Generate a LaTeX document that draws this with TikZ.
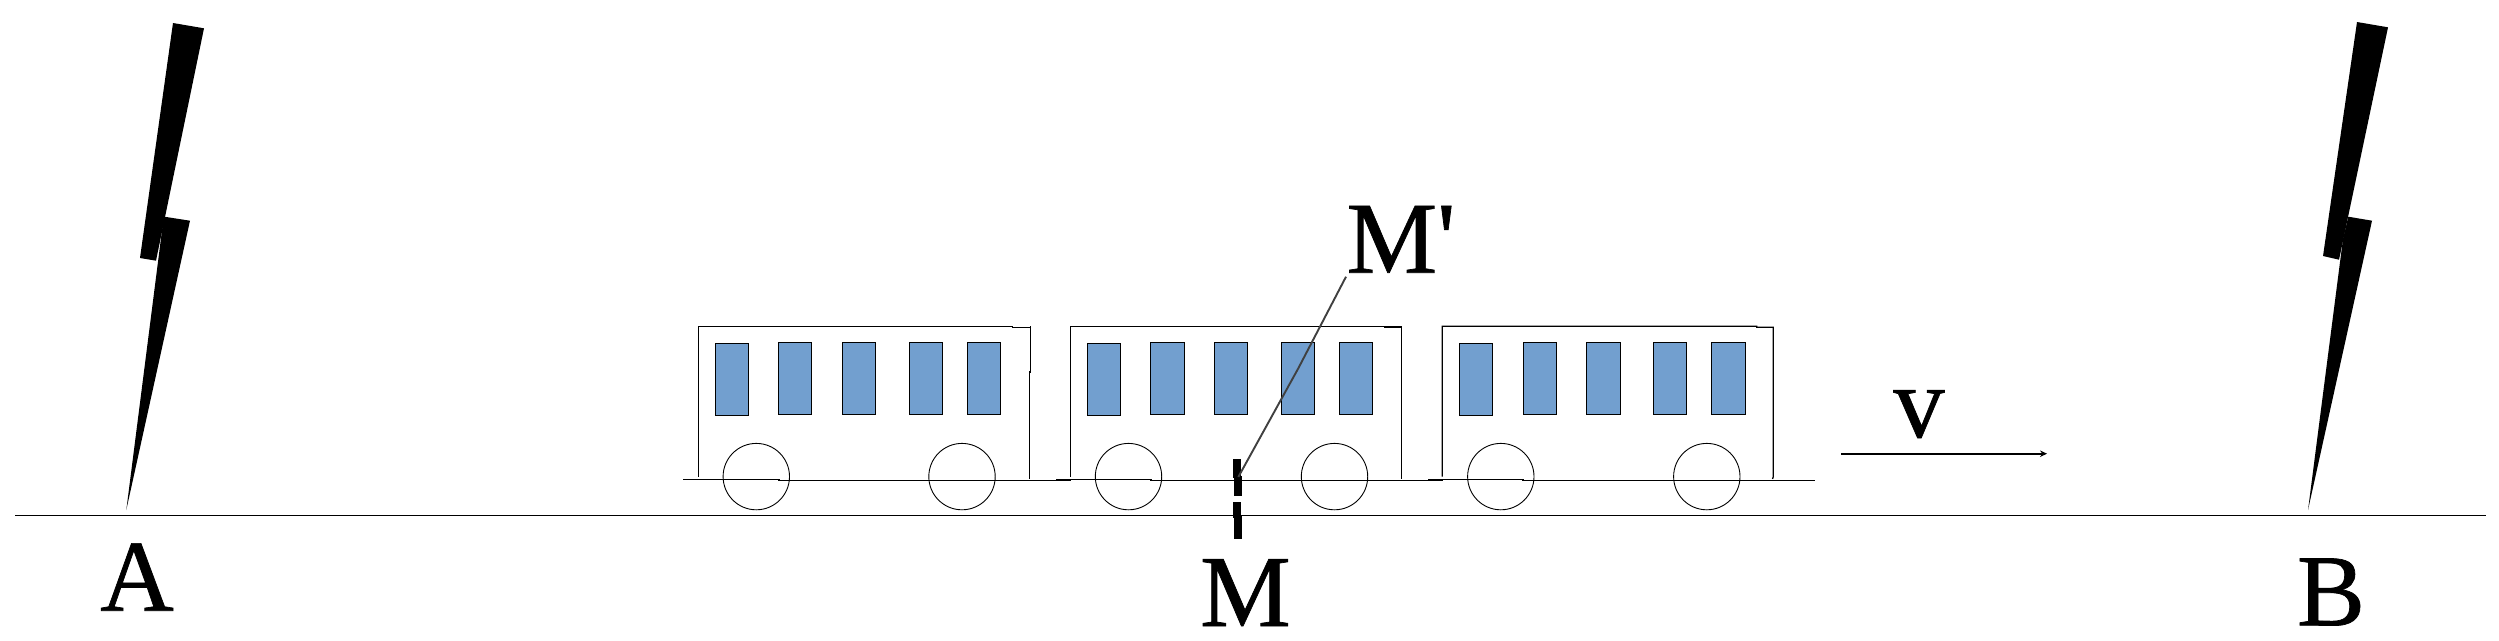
\documentclass[tikz,border=0pt]{standalone}
\usepackage{fontspec}
\setmainfont{Liberation Serif}
\newfontface\labelface[FakeBold=0.7]{Liberation Serif}
\usetikzlibrary{arrows.meta}
\definecolor{winblue}{HTML}{729FCF}
\definecolor{leader}{HTML}{404040}
\tikzset{
  bigtext/.style={inner sep=0pt,outer sep=0pt,anchor=base,font=\labelface\fontsize{102}{104}\selectfont},
  linework/.style={draw=black,line width=1.3pt,line cap=butt,line join=miter},
  wheel/.style={draw=black,line width=0.9pt},
  pane/.style={draw=black,fill=winblue,line width=1.2pt},
  bolt/.style={fill=black,draw=none},
  tick/.style={fill=black,draw=none}
}
\begin{document}
\begin{tikzpicture}[x=1pt,y=-1pt]
\useasboundingbox (0,0) rectangle (2499,640);
% ground
\draw[linework] (15,515.3) -- (2486,515.3);
% lightning A
\path[bolt] (173,23) -- (204,28.3) -- (156,260.7) -- (140,258) -- cycle;
\path[bolt] (164.3,216.7) -- (190,220.7) -- (126.3,510) -- (162.7,225) -- cycle;
% lightning B
\path[bolt] (2357,22) -- (2388,27.3) -- (2339,259.7) -- (2323,256) -- cycle;
\path[bolt] (2348.3,216.7) -- (2372,220.7) -- (2308,510) -- (2343,238.7) -- cycle;
% tracks
\draw[linework] (683,479.3) -- (779,479.3) -- (779,480.3) -- (1071,480.3);
\draw[linework] (1056,479.3) -- (1151,479.3) -- (1151,480.3) -- (1443,480.3);
\draw[linework] (1428,479.3) -- (1523,479.3) -- (1523,480.3) -- (1815,480.3);
\draw[line width=2pt] (1056,479.6) -- (1071,479.6);
\draw[line width=2pt] (1428,479.6) -- (1443,479.6);
% car bodies
\draw[linework] (698.3,476.7) -- (698.3,326.3) -- (1012.7,326.3) -- (1012.7,327.3) -- (1030.3,327.3);
\draw[linework] (1030.3,326) -- (1030.3,372) -- (1029.3,372) -- (1029.3,479);
\draw[linework] (1070.3,476.7) -- (1070.3,326.3) -- (1384.3,326.3) -- (1384.3,327.1) -- (1401.3,327.1) -- (1401.3,478.7);
\draw[linework] (1442.3,476.7) -- (1442.3,326.3) -- (1756.7,326.3) -- (1756.7,327.3) -- (1773.3,327.3) -- (1773.3,476.7) -- (1772.5,479);
% windows
\foreach \xa/\xb in {715.3/748.3,1087.3/1120.3,1459.3/1492.3}
  \draw[pane] (\xa,343.3) rectangle (\xb,415.3);
\foreach \xa/\xb in {778.3/811.3,842.3/875.3,909.3/942.3,967.3/1000.3,
                     1150.3/1184.7,1214.3/1247.7,1281.3/1314.7,1339.3/1372.7,
                     1523.3/1556.3,1586.3/1620.7,1653.3/1686.7,1711.3/1745.7}
  \draw[pane] (\xa,342.3) rectangle (\xb,414.3);
% wheels
\foreach \cx in {756.3,962,1128.5,1334.5,1500.8,1706.8}
  \draw[wheel] (\cx,476.6) circle[radius=33.2];
% M tick
\path[tick] (1233,459) rectangle (1241,478);
\path[tick] (1234,476) rectangle (1242,496);
\path[tick] (1233.3,501.7) rectangle (1241,518);
\path[tick] (1234,516) rectangle (1242,539);
% labels
\node[bigtext] (labelA) at (137,610.7) {A};
\node[bigtext] (labelB) at (2331,625.3) {B};
\node[bigtext] (labelM) at (1245.5,626) {M};
\node[bigtext] (labelMp) at (1401,272.7) {M\textquotesingle};
\node[bigtext] (labelv) at (1919,437) {v};
% connectors
\coordinate (leadtop) at (1346,276.7);
\coordinate (leadbend) at (1298.3,368.3);
\coordinate (leadend) at (1238.3,477);
\draw[draw=leader,line width=1.9pt] (leadtop) -- (leadbend) -- (leadend);
\coordinate (vstart) at (1841,453.7);
\coordinate (vend) at (2047,453.7);
\draw[line width=1.6pt,-{Stealth[length=7pt,width=6.5pt]}] (vstart) -- (vend);
\end{tikzpicture}
\end{document}
